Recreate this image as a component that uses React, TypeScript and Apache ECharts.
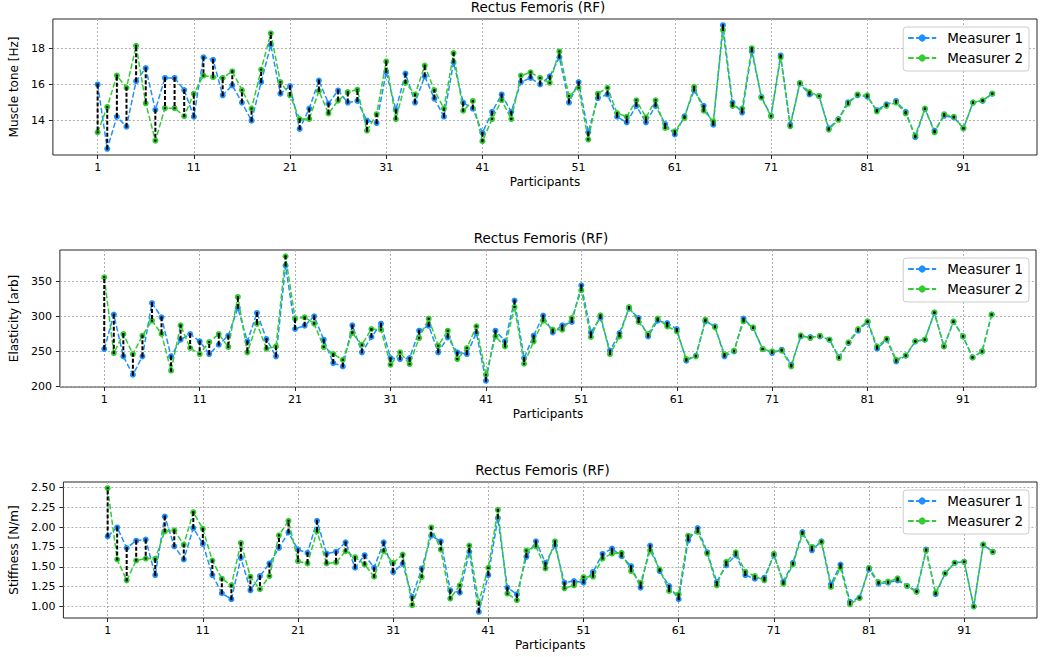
import React, { useEffect, useRef } from 'react';
import * as echarts from 'echarts';

// ---------- data ----------
const PARTICIPANTS = Array.from({ length: 94 }, (_, i) => i + 1);
const X_TICK_LABELS = [1, 11, 21, 31, 41, 51, 61, 71, 81, 91];
const TONE_TICKS = [14, 16, 18];
const ELAST_TICKS = [200, 250, 300, 350];
const STIFF_TICKS = [1.0, 1.25, 1.5, 1.75, 2.0, 2.25, 2.5];

const TONE_M1 = [
  16.0, 12.45, 14.22, 13.67, 16.18, 16.9, 14.6, 16.36, 16.36, 15.69,
  14.22, 17.5, 17.36, 15.4, 15.95, 15.0, 14.0, 16.13, 18.18, 15.49,
  15.91, 13.55, 14.67, 16.22, 14.95, 15.67, 15.0, 15.09, 14.0, 13.87,
  16.69, 14.6, 16.6, 15.0, 16.45, 15.22, 14.22, 17.22, 15.0, 14.67,
  13.33, 14.49, 15.45, 14.49, 16.13, 16.36, 16.0, 16.45, 17.49, 15.0,
  16.13, 13.36, 15.24, 15.45, 14.22, 13.91, 14.82, 13.91, 14.82, 13.82,
  13.24, 14.24, 15.67, 14.82, 13.78, 19.27, 15.0, 14.45, 17.82, 15.31,
  14.27, 17.6, 13.78, 16.04, 15.45, 15.36, 13.58, 14.09, 15.02, 15.4,
  15.33, 14.58, 14.9, 15.09, 14.49, 13.09, 14.64, 13.45, 14.27, 14.18,
  13.58, 15.0, 15.09, 15.49,
];
const TONE_M2 = [
  13.36, 14.76, 16.49, 15.82, 18.13, 14.96, 12.9, 14.69, 14.69, 14.25,
  15.49, 16.49, 16.4, 16.36, 16.73, 15.69, 14.67, 16.82, 18.82, 16.13,
  15.4, 14.09, 14.09, 15.64, 14.4, 15.11, 15.58, 15.71, 13.45, 14.36,
  17.27, 14.09, 16.09, 15.45, 17.04, 15.69, 14.67, 17.73, 14.55, 15.09,
  12.87, 14.09, 15.13, 14.09, 16.49, 16.67, 16.36, 16.09, 17.82, 15.36,
  15.82, 12.96, 15.49, 15.82, 14.42, 14.22, 15.13, 14.18, 15.13, 13.6,
  13.42, 14.15, 15.87, 14.55, 13.96, 19.0, 14.82, 14.67, 18.0, 15.27,
  14.24, 17.49, 13.69, 16.09, 15.58, 15.36, 13.51, 14.05, 14.93, 15.45,
  15.4, 14.51, 14.82, 15.0, 14.4, 13.18, 14.67, 13.36, 14.36, 14.22,
  13.58, 15.0, 15.13, 15.49,
];

const ELAST_M1 = [
  253.3, 302.4, 242.9, 216.7, 242.9, 319.0, 298.6, 242.9, 266.7, 274.8,
  264.3, 246.2, 259.5, 272.4, 311.9, 264.3, 304.8, 267.6, 242.9, 372.4,
  281.9, 286.7, 300.0, 266.7, 233.3, 228.6, 287.1, 248.6, 270.5, 289.5,
  240.5, 239.0, 240.5, 279.5, 286.7, 248.6, 270.0, 248.6, 246.2, 276.2,
  208.1, 279.5, 264.3, 322.4, 240.5, 272.4, 301.0, 277.1, 287.1, 291.9,
  344.3, 277.1, 297.6, 251.0, 276.2, 311.0, 297.6, 271.4, 293.8, 290.5,
  281.9, 236.7, 243.8, 292.9, 285.7, 242.9, 250.0, 296.7, 283.3, 253.3,
  247.6, 252.4, 231.0, 271.4, 270.5, 271.4, 266.7, 241.9, 262.0, 279.5,
  291.9, 253.8, 266.7, 235.7, 243.8, 264.3, 266.7, 304.8, 257.1, 291.9,
  271.4, 241.4, 250.0, 302.4,
];
const ELAST_M2 = [
  355.7, 247.6, 274.8, 246.2, 272.4, 293.8, 274.8, 222.4, 287.1, 254.8,
  246.2, 263.3, 274.8, 256.2, 327.6, 248.6, 289.5, 253.8, 257.1, 385.7,
  296.7, 298.6, 289.5, 256.2, 246.2, 238.1, 276.2, 259.5, 281.9, 281.0,
  231.0, 248.6, 231.9, 269.0, 296.7, 258.1, 279.5, 239.0, 254.8, 285.7,
  216.7, 271.4, 257.1, 313.3, 232.4, 264.3, 293.8, 281.0, 281.0, 297.6,
  337.1, 270.5, 301.4, 246.2, 271.4, 313.3, 291.9, 274.8, 296.7, 285.7,
  278.6, 239.0, 242.9, 295.2, 284.3, 246.2, 251.0, 292.9, 284.3, 253.3,
  250.0, 251.0, 228.6, 272.9, 269.0, 272.4, 266.7, 240.5, 263.0, 281.9,
  292.9, 257.1, 268.1, 238.1, 244.3, 264.3, 266.7, 305.7, 257.1, 292.9,
  271.4, 241.4, 250.0, 302.4,
];

const STIFF_M1 = [
  1.883, 1.996, 1.737, 1.829, 1.842, 1.396, 2.133, 1.758, 1.592, 1.988,
  1.788, 1.396, 1.167, 1.092, 1.613, 1.204, 1.383, 1.542, 1.738, 1.933,
  1.717, 1.675, 2.079, 1.667, 1.69, 1.808, 1.488, 1.646, 1.488, 1.808,
  1.433, 1.538, 1.121, 1.479, 1.892, 1.821, 1.204, 1.175, 1.688, 0.933,
  1.396, 2.113, 1.238, 1.154, 1.625, 1.821, 1.55, 1.767, 1.3, 1.321,
  1.3, 1.435, 1.663, 1.729, 1.633, 1.508, 1.238, 1.767, 1.446, 1.258,
  1.092, 1.833, 1.988, 1.683, 1.308, 1.521, 1.646, 1.396, 1.35, 1.363,
  1.646, 1.313, 1.55, 1.938, 1.708, 1.821, 1.279, 1.529, 1.058, 1.113,
  1.467, 1.288, 1.3, 1.329, 1.258, 1.196, 1.717, 1.154, 1.417, 1.55,
  1.563, 1.0, 1.779, 1.688,
];
const STIFF_M2 = [
  2.49, 1.592, 1.329, 1.579, 1.604, 1.6, 1.946, 1.958, 1.779, 2.188,
  1.979, 1.579, 1.35, 1.267, 1.8, 1.375, 1.217, 1.383, 1.896, 2.079,
  1.571, 1.542, 1.946, 1.542, 1.555, 1.696, 1.621, 1.529, 1.375, 1.696,
  1.55, 1.654, 1.017, 1.371, 1.996, 1.717, 1.1, 1.267, 1.767, 1.05,
  1.488, 2.217, 1.163, 1.079, 1.704, 1.758, 1.479, 1.821, 1.229, 1.267,
  1.371, 1.377, 1.604, 1.667, 1.675, 1.446, 1.3, 1.704, 1.467, 1.196,
  1.154, 1.892, 1.938, 1.667, 1.267, 1.563, 1.683, 1.438, 1.383, 1.329,
  1.663, 1.288, 1.529, 1.913, 1.75, 1.808, 1.246, 1.488, 1.029, 1.104,
  1.488, 1.308, 1.313, 1.354, 1.258, 1.183, 1.704, 1.175, 1.417, 1.55,
  1.563, 1.0, 1.779, 1.688,
];

const TITLE = 'Rectus Femoris (RF)';
const SERIES_NAMES = ['Measurer 1', 'Measurer 2'];

// ---------- styling ----------
const FONT = 'DejaVu Sans';
const BLUE = '#1E90FF';
const GREEN = '#32CD32';
const FRAME = '#262626';

type Panel = {
  m1: number[];
  m2: number[];
  ticks: number[];
  interval: number;
  decimals: number;
  yName: string;
  left: number;
  top: number;
  width: number;
  height: number;
  nameGap: number;
};

const PANELS: Panel[] = [
  { m1: TONE_M1, m2: TONE_M2, ticks: TONE_TICKS, interval: 2, decimals: 0, yName: 'Muscle tone [Hz]', left: 39, top: 19, width: 998, height: 136, nameGap: 23 },
  { m1: ELAST_M1, m2: ELAST_M2, ticks: ELAST_TICKS, interval: 50, decimals: 0, yName: 'Elasticity [arb]', left: 46, top: 250, width: 990, height: 137, nameGap: 30 },
  { m1: STIFF_M1, m2: STIFF_M2, ticks: STIFF_TICKS, interval: 0.25, decimals: 2, yName: 'Stiffness [N/m]', left: 48, top: 482, width: 989, height: 136, nameGap: 33 },
];

function buildOption() {
  const grid: any[] = [];
  const xAxis: any[] = [];
  const yAxis: any[] = [];
  const series: any[] = [];
  const legend: any[] = [];
  const graphic: any[] = [];

  const nPts = PARTICIPANTS.length;
  const xMargin = (nPts - 1) * 0.05;

  PANELS.forEach((p, k) => {
    const all = p.m1.concat(p.m2);
    const lo = Math.min(...all);
    const hi = Math.max(...all);
    const pad = (hi - lo) * 0.05;

    grid.push({
      left: p.left, top: p.top, width: p.width, height: p.height,
      show: true, borderColor: FRAME, borderWidth: 1, backgroundColor: 'transparent',
      containLabel: false,
    });

    xAxis.push({
      type: 'value', gridIndex: k,
      min: -xMargin, max: nPts - 1 + xMargin,
      minInterval: 10, maxInterval: 10,
      name: 'Participants', nameLocation: 'middle', nameGap: 21,
      nameTextStyle: { fontFamily: FONT, fontSize: 12, color: '#000' },
      axisLine: { show: false, onZero: false },
      axisTick: { show: true, length: 4, lineStyle: { color: FRAME, width: 1 }, customValues: X_TICK_LABELS.map((t) => t - 1) },
      axisLabel: {
        show: true, margin: 7, fontFamily: FONT, fontSize: 11, color: '#000',
        customValues: X_TICK_LABELS.map((t) => t - 1),
        formatter: (v: number) => (Math.abs(v - Math.round(v)) < 1e-6 ? String(Math.round(v) + 1) : ''),
      },
      splitLine: { show: true, lineStyle: { color: '#b0b0b0', width: 1, type: [2, 2] } },
    });

    yAxis.push({
      type: 'value', gridIndex: k,
      min: lo - pad, max: hi + pad,
      minInterval: p.interval, maxInterval: p.interval,
      name: p.yName, nameLocation: 'middle', nameGap: p.nameGap, nameRotate: 90,
      nameTextStyle: { fontFamily: FONT, fontSize: 12, color: '#000' },
      axisLine: { show: false, onZero: false },
      axisTick: { show: true, length: 4, lineStyle: { color: FRAME, width: 1 }, customValues: p.ticks },
      axisLabel: {
        show: true, margin: 8, fontFamily: FONT, fontSize: 11, color: '#000',
        customValues: p.ticks,
        formatter: (v: number) => {
          const r = Math.round(v / p.interval) * p.interval;
          if (Math.abs(v - r) > p.interval * 1e-3) return '';
          return r.toFixed(p.decimals);
        },
      },
      splitLine: { show: true, lineStyle: { color: '#b0b0b0', width: 1, type: [2, 2] } },
    });

    const mk = (name: string, vals: number[], color: string, z: number) => ({
      type: 'line', name, xAxisIndex: k, yAxisIndex: k, z,
      data: vals.map((v, i) => [PARTICIPANTS[i] - 1, v]),
      symbol: 'circle', symbolSize: 6, showSymbol: true,
      lineStyle: { color, width: 1.5, type: [5.5, 2.4] },
      itemStyle: { color },
      emphasis: { disabled: true },
      animation: false,
    });
    series.push(mk(SERIES_NAMES[0], p.m1, BLUE, 2));
    series.push(mk(SERIES_NAMES[1], p.m2, GREEN, 3));

    series.push({
      type: 'custom', name: 'diff' + k, xAxisIndex: k, yAxisIndex: k, z: 4,
      data: p.m1.map((v, i) => [PARTICIPANTS[i] - 1, v, p.m2[i]]),
      encode: { x: 0, y: [1, 2] },
      silent: true,
      renderItem: (params: any, api: any) => {
        const x = api.value(0);
        const a = api.coord([x, api.value(1)]);
        const b = api.coord([x, api.value(2)]);
        return {
          type: 'group',
          children: [
            { type: 'line', shape: { x1: a[0], y1: a[1], x2: b[0], y2: b[1] }, style: { stroke: '#000', lineWidth: 2, lineDash: [4, 2] } },
            { type: 'rect', shape: { x: a[0] - 1, y: a[1] - 1, width: 2, height: 2 }, style: { fill: '#000' } },
            { type: 'rect', shape: { x: b[0] - 1, y: b[1] - 1, width: 2, height: 2 }, style: { fill: '#000' } },
          ],
        };
      },
      animation: false,
    });

    legend.push({
      orient: 'vertical',
      right: 11, top: p.top + 8,
      itemWidth: 28, itemHeight: 9, itemGap: 4,
      padding: [3, 6, 5, 4],
      backgroundColor: 'rgba(255,255,255,0.85)',
      borderColor: '#cccccc', borderWidth: 1, borderRadius: 3,
      textStyle: { fontFamily: FONT, fontSize: 13.5, color: '#000', lineHeight: 16, padding: [0, 0, 0, 6] },
      data: SERIES_NAMES,
      selectedMode: false,
    });

    graphic.push({
      type: 'text',
      x: p.left + p.width / 2,
      y: p.top - 5,
      style: {
        text: TITLE, fill: '#000', font: `13.5px "${FONT}"`,
        align: 'center', verticalAlign: 'bottom',
      },
    });
  });

  return {
    animation: false,
    backgroundColor: '#ffffff',
    textStyle: { fontFamily: FONT },
    grid, xAxis, yAxis, series, legend, graphic,
  };
}

export default function App() {
  const ref = useRef<HTMLDivElement>(null);
  useEffect(() => {
    if (!ref.current) return;
    const chart = echarts.init(ref.current, undefined, { renderer: 'svg' });
    chart.setOption(buildOption() as any);
    return () => chart.dispose();
  }, []);
  return (
    <div
      ref={ref}
      style={{ position: 'absolute', left: 0, top: 0, width: 1040, height: 657, background: '#fff' }}
    />
  );
}
